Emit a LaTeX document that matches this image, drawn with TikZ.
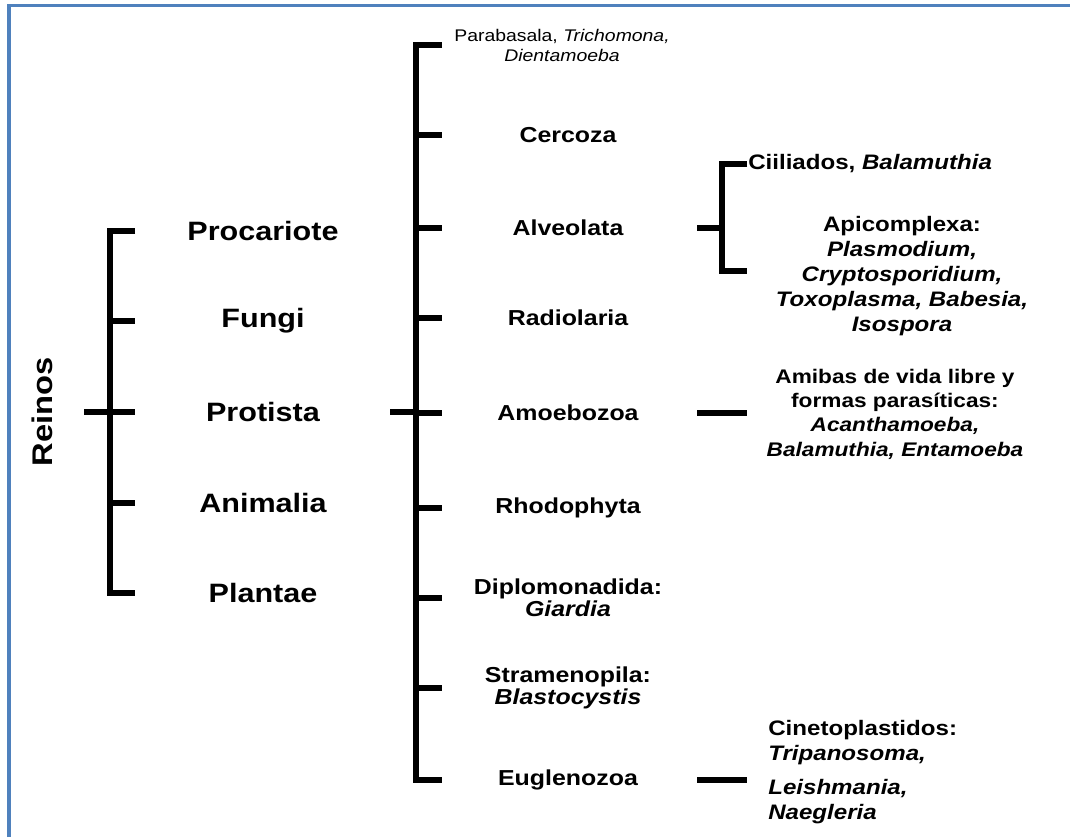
\documentclass[tikz,border=0pt]{standalone}
\usepackage{fontspec}
\setmainfont{Liberation Sans}[FakeStretch=1.15]
\usepackage{tikz}
\usetikzlibrary{positioning}
\definecolor{frameblue}{RGB}{79,129,189}

\begin{document}
\begin{tikzpicture}[
    x=0.025cm, y=-0.025cm,
    branch/.style={line width=3.6pt},
    kingdom/.style={font=\fontsize{18.9}{20}\selectfont\bfseries},
    group/.style={font=\fontsize{15.4}{15.6}\selectfont\bfseries, align=center},
    species/.style={font=\fontsize{14.9}{17.8}\selectfont\bfseries, inner sep=0pt}
  ]
    \useasboundingbox (0,0) rectangle (1070,837);
    % frame
    \draw[frameblue, line width=2.8pt] (9,837) -- (9,5.5) -- (1070,5.5);

    \begin{scope}
      % Reinos
      \node[kingdom, font=\fontsize{20.2}{22}\selectfont\bfseries, rotate=90] (reinos) at (42,412) {Reinos};
      \node[kingdom] (proc) at (263,231) {Procariote};
      \node[kingdom] (fungi) at (263,321) {Fungi};
      \node[kingdom] (prot) at (263,412) {Protista};
      \node[kingdom] (anim) at (263,503) {Animalia};
      \node[kingdom] (plant) at (263,593) {Plantae};

      \coordinate (kroot) at (84,0);
      \coordinate (kspine) at (110,0);
      \coordinate (ktip) at (135,0);

      \draw[branch] (proc -| ktip) -- (proc -| kspine) -- (plant -| kspine) -- (plant -| ktip);
      \foreach \k in {fungi, prot, anim}
        \draw[branch] (\k -| kspine) -- (\k -| ktip);
      \draw[branch] (prot -| kroot) -- (prot -| kspine);
    \end{scope}

    \begin{scope}
      % Protista
      \node[group, font=\fontsize{12}{14.2}\selectfont] (para) at (562,45) {Parabasala, \textit{Trichomona,}\\\textit{Dientamoeba}};
      \node[group] (cerc) at (568,135) {Cercoza};
      \node[group] (alve) at (568,228) {Alveolata};
      \node[group] (radi) at (568,318) {Radiolaria};
      \node[group] (amoe) at (568,413) {Amoebozoa};
      \node[group] (rhod) at (568,508) {Rhodophyta};
      \node[group] (dipl) at (568,598) {Diplomonadida:\\\textit{Giardia}};
      \node[group] (stra) at (568,688) {Stramenopila:\\\textit{Blastocystis}};
      \node[group] (eugl) at (568,780) {Euglenozoa};

      \coordinate (proot) at (390,0);
      \coordinate (pspine) at (416,0);
      \coordinate (ptip) at (442,0);

      \draw[branch] (para -| ptip) -- (para -| pspine) -- (eugl -| pspine) -- (eugl -| ptip);
      \foreach \g in {cerc, alve, radi, amoe, rhod, dipl, stra}
        \draw[branch] (\g -| pspine) -- (\g -| ptip);
      \draw[branch] (prot -| proot) -- (prot -| pspine);
    \end{scope}

    \begin{scope}
      % Especies
      \node[species, anchor=west] (cili) at (748,164) {Ciiliados, \textit{Balamuthia}};
      \node[species, align=center] (apic) at (902,276) {Apicomplexa:\\\textit{Plasmodium,}\\\textit{Cryptosporidium,}\\\textit{Toxoplasma, Babesia,}\\\textit{Isospora}};
      \node[species, align=center, font=\fontsize{14}{17.3}\selectfont\bfseries] (amib) at (895,414) {Amibas de vida libre y\\formas parasíticas:\\\textit{Acanthamoeba,}\\\textit{Balamuthia, Entamoeba}};
      \node[species, align=left, anchor=west, font=\fontsize{14.9}{17.5}\selectfont\bfseries] (cine) at (768,772) {Cinetoplastidos:\\\textit{Tripanosoma,}\\[7pt]\textit{Leishmania,}\\\textit{Naegleria}};

      \coordinate (sroot) at (697,0);
      \coordinate (sspine) at (722,0);
      \coordinate (stip) at (747,0);
      \coordinate (slow) at (0,271);

      \draw[branch] (cili -| stip) -- (cili -| sspine) -- (slow -| sspine) -- (slow -| stip);
      \draw[branch] (alve -| sroot) -- (alve -| sspine);
      \draw[branch] (amoe -| sroot) -- (amoe -| stip);
      \draw[branch] (eugl -| sroot) -- (eugl -| stip);
    \end{scope}
  \end{tikzpicture}
\end{document}
